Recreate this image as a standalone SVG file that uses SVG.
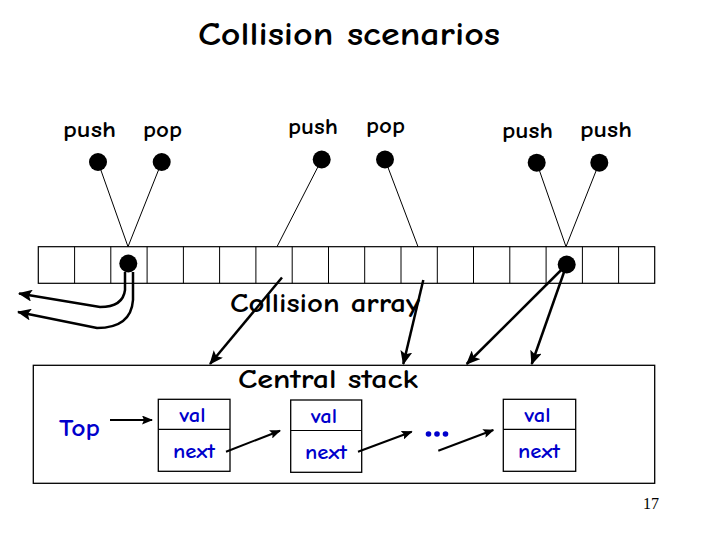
<svg xmlns="http://www.w3.org/2000/svg" width="720" height="540" viewBox="0 0 720 540">
<style>
.t{font-family:"Comic Sans MS","Comic Neue","DejaVu Sans","Liberation Sans",sans-serif;fill:#000;font-weight:bold}
.b{font-family:"Comic Sans MS","Comic Neue","DejaVu Sans","Liberation Sans",sans-serif;fill:#0000CC;font-weight:bold}
.cell{fill:#fff;stroke:#000;stroke-width:1.2}
.thin{stroke:#000;stroke-width:1;fill:none}
.arr{stroke:#000;stroke-width:2.5;fill:none;marker-end:url(#ah)}
.arrs{stroke:#000;stroke-width:2;fill:none;marker-end:url(#ah2)}
.box{fill:#fff;stroke:#000;stroke-width:1.3}
</style>
<defs>
<marker id="ah" markerUnits="userSpaceOnUse" markerWidth="14" markerHeight="12" refX="13" refY="6" orient="auto"><path d="M0,0 L14,6 L0,12 L3,6 z" fill="#000"/></marker>
<marker id="ah2" markerUnits="userSpaceOnUse" markerWidth="11" markerHeight="9" refX="10" refY="4.5" orient="auto"><path d="M0,0 L11,4.5 L0,9 L2,4.5 z" fill="#000"/></marker>
</defs>
<rect width="720" height="540" fill="#fff"/>
<text class="t" x="349" y="45" font-size="33" text-anchor="middle" textLength="302" lengthAdjust="spacingAndGlyphs">Collision scenarios</text>

<g id="labels">
<text class="t" x="89.5" y="137" font-size="22" text-anchor="middle" textLength="53" lengthAdjust="spacingAndGlyphs">push</text>
<text class="t" x="162.5" y="137" font-size="22" text-anchor="middle" textLength="39" lengthAdjust="spacingAndGlyphs">pop</text>
<text class="t" x="313" y="134" font-size="22" text-anchor="middle" textLength="50" lengthAdjust="spacingAndGlyphs">push</text>
<text class="t" x="385.5" y="133" font-size="22" text-anchor="middle" textLength="39" lengthAdjust="spacingAndGlyphs">pop</text>
<text class="t" x="527.5" y="138" font-size="22" text-anchor="middle" textLength="51" lengthAdjust="spacingAndGlyphs">push</text>
<text class="t" x="606" y="137" font-size="22" text-anchor="middle" textLength="52" lengthAdjust="spacingAndGlyphs">push</text>
</g>

<g id="array">
<rect class="cell" x="38.3" y="246.7" width="616.4" height="36.6"/>
<path class="thin" d="M74.6,246.7V283.3M110.8,246.7V283.3M147.1,246.7V283.3M183.4,246.7V283.3M219.6,246.7V283.3M255.9,246.7V283.3M292.2,246.7V283.3M328.5,246.7V283.3M364.7,246.7V283.3M401,246.7V283.3M437.3,246.7V283.3M473.5,246.7V283.3M509.8,246.7V283.3M546.1,246.7V283.3M582.4,246.7V283.3M618.6,246.7V283.3" stroke-width="1.2"/>
</g>

<g id="central-stack">
<rect class="box" x="33.3" y="365.3" width="621.4" height="118"/>
<text class="t" x="328" y="388" font-size="26" text-anchor="middle" textLength="180" lengthAdjust="spacingAndGlyphs">Central stack</text>
</g>

<g id="threads">
<circle cx="98" cy="162" r="9"/>
<circle cx="161.7" cy="162" r="9"/>
<circle cx="321.7" cy="159.5" r="9"/>
<circle cx="385" cy="159.5" r="9"/>
<circle cx="536.7" cy="162.7" r="9"/>
<circle cx="599.3" cy="162.7" r="9"/>
<circle cx="128.3" cy="263.5" r="9"/>
<circle cx="566.7" cy="264.5" r="9"/>
</g>

<text class="t" x="325" y="311.5" font-size="26" text-anchor="middle" textLength="190" lengthAdjust="spacingAndGlyphs">Collision array</text>

<g id="top"><text class="b" x="79.5" y="436" font-size="25" text-anchor="middle" textLength="41" lengthAdjust="spacingAndGlyphs">Top</text></g>

<g id="node1">
<rect class="box" x="158.3" y="399.3" width="71.7" height="72"/>
<line x1="158.3" y1="429.3" x2="230" y2="429.3" stroke="#000" stroke-width="1.2"/>
<text class="b" x="192.5" y="421.5" font-size="21" text-anchor="middle" textLength="26" lengthAdjust="spacingAndGlyphs">val</text>
<text class="b" x="194" y="458" font-size="21" text-anchor="middle" textLength="42" lengthAdjust="spacingAndGlyphs">next</text>
</g>
<g id="node2">
<rect class="box" x="290.7" y="400" width="71" height="72.3"/>
<line x1="290.7" y1="430.5" x2="361.7" y2="430.5" stroke="#000" stroke-width="1.2"/>
<text class="b" x="324" y="422.5" font-size="21" text-anchor="middle" textLength="26" lengthAdjust="spacingAndGlyphs">val</text>
<text class="b" x="326" y="459" font-size="21" text-anchor="middle" textLength="42" lengthAdjust="spacingAndGlyphs">next</text>
</g>
<g id="ellipsis">
<circle cx="428.5" cy="434" r="2.8" fill="#0000CC"/>
<circle cx="437" cy="434" r="2.8" fill="#0000CC"/>
<circle cx="445.5" cy="434" r="2.8" fill="#0000CC"/>
</g>
<g id="node3">
<rect class="box" x="503.3" y="399.3" width="72.4" height="72"/>
<line x1="503.3" y1="429.3" x2="575.7" y2="429.3" stroke="#000" stroke-width="1.2"/>
<text class="b" x="537.5" y="421.5" font-size="21" text-anchor="middle" textLength="26" lengthAdjust="spacingAndGlyphs">val</text>
<text class="b" x="539" y="458" font-size="21" text-anchor="middle" textLength="42" lengthAdjust="spacingAndGlyphs">next</text>
</g>

<g id="connectors">
<path class="thin" d="M98,162 L128,246.7 M161.7,162 L128,246.7 M321.7,159.5 L277,246.7 M385,159.5 L418,246.7 M536.7,162.7 L566,246.7 M599.3,162.7 L566,246.7"/>
<path class="arr" d="M125,272 L125,290 Q123,307 100,307 L19,293.5"/>
<path class="arr" d="M133,272 L133,300 Q131,328 97,328 L18,312"/>
<path class="arr" d="M282,277.5 L210,364"/>
<path class="arr" d="M423.3,280 L403.3,364"/>
<path class="arr" d="M566.7,264.5 L466.7,364"/>
<path class="arr" d="M566.7,264.5 L531.7,364"/>
<path class="arrs" d="M110,420 L152,420"/>
<path class="arrs" d="M226,451.7 L280,430.7"/>
<path class="arrs" d="M358,451.7 L411.7,431.7"/>
<path class="arrs" d="M438.3,450.7 L493.3,430"/>
</g>

<text x="651" y="509" font-family="Liberation Serif,serif" font-size="16" text-anchor="middle" fill="#000">17</text>
</svg>
